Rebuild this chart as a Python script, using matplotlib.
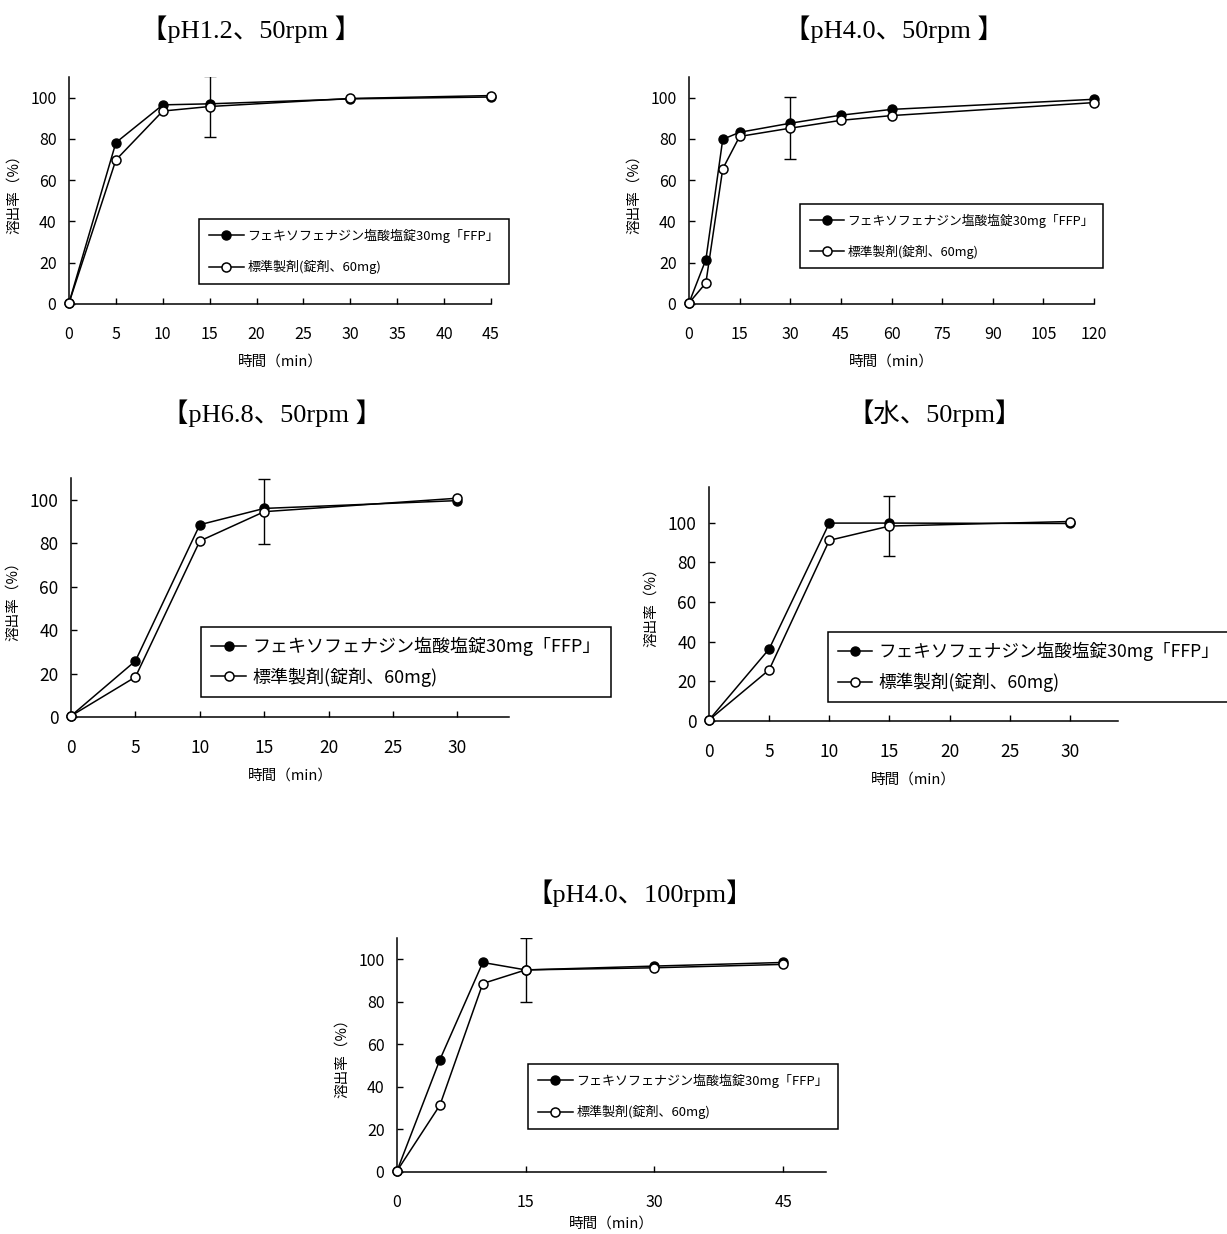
import matplotlib
matplotlib.use('Agg')
import matplotlib.pyplot as plt

plt.rcParams['font.family'] = ['Noto Sans CJK JP', 'DejaVu Sans']

# 凡例ラベル
label_test = 'フェキソフェナジン塩酸塩錠30mg「FFP」'
label_ref = '標準製剤(錠剤、60mg)'

# pH1.2、50rpm
t1 = [0, 5, 10, 15, 30, 45]
test1 = [0.5, 78.2, 96.5, 97.0, 99.4, 100.3]
ref1 = [0.5, 69.8, 93.5, 95.7, 99.6, 101.0]
xticks1 = [0, 5, 10, 15, 20, 25, 30, 35, 40, 45]

# pH4.0、50rpm
t2 = [0, 5, 10, 15, 30, 45, 60, 120]
test2 = [0.5, 21.5, 79.8, 83.2, 87.6, 91.5, 94.3, 99.2]
ref2 = [0.5, 10.2, 65.5, 81.2, 85.2, 89.0, 91.3, 97.6]
xticks2 = [0, 15, 30, 45, 60, 75, 90, 105, 120]

# pH6.8、50rpm
t3 = [0, 5, 10, 15, 30]
test3 = [0.5, 25.8, 88.5, 96.0, 99.6]
ref3 = [0.5, 18.4, 81.0, 94.5, 100.7]
xticks3 = [0, 5, 10, 15, 20, 25, 30]

# 水、50rpm
t4 = [0, 5, 10, 15, 30]
test4 = [0.5, 36.3, 99.8, 99.8, 99.6]
ref4 = [0.5, 25.8, 91.1, 98.3, 100.6]
xticks4 = [0, 5, 10, 15, 20, 25, 30]

# pH4.0、100rpm
t5 = [0, 5, 10, 15, 30, 45]
test5 = [0.5, 52.8, 98.5, 95.0, 96.8, 98.5]
ref5 = [0.5, 31.4, 88.6, 95.0, 96.0, 97.6]
xticks5 = [0, 15, 30, 45]

yticks = [0, 20, 40, 60, 80, 100]
err_range = 15  # ±15%

W, H = 1227, 1234
fig = plt.figure(figsize=(W / 100, H / 100), dpi=100)


def rect(l, r, t, b):
    return [l / W, 1 - b / H, (r - l) / W, (b - t) / H]


def panel(pos, t, test, ref, xticks, xmax, ymax, err_t, leg_xy, fs, lfs,
          lsp, bpad, hlen, htpad, xlpad=8):
    ax = fig.add_axes(rect(*pos))
    ax.plot(t, test, '-o', color='black', lw=1.1, ms=6.5, mfc='black',
            mec='black', clip_on=False, zorder=3, label=label_test)
    ax.plot(t, ref, '-o', color='black', lw=1.1, ms=6.5, mfc='white',
            mec='black', mew=1.1, clip_on=False, zorder=4, label=label_ref)
    i = t.index(err_t)
    ax.errorbar([t[i]], [ref[i]], yerr=err_range, fmt='none', ecolor='black',
                elinewidth=1.0, capsize=4.0, capthick=1.0, zorder=2)
    ax.set_xlim(0, xmax)
    ax.set_ylim(0, ymax)
    ax.set_xticks(xticks)
    ax.set_yticks(yticks)
    for s in ['top', 'right']:
        ax.spines[s].set_visible(False)
    for s in ['left', 'bottom']:
        ax.spines[s].set_linewidth(1.1)
    ax.tick_params(axis='x', direction='in', length=4, width=1, pad=16, labelsize=fs)
    ax.tick_params(axis='y', direction='in', length=4, width=1, pad=9, labelsize=fs)
    ax.set_xlabel('時間（min）', fontsize=10.5, labelpad=xlpad)
    ax.set_ylabel('溶出率（%）', fontsize=10.5, labelpad=7)
    leg = ax.legend(loc='upper left', bbox_to_anchor=leg_xy, borderaxespad=0,
                    fontsize=lfs, frameon=True, fancybox=False, framealpha=1,
                    edgecolor='black', handlelength=hlen, handletextpad=htpad,
                    labelspacing=lsp, borderpad=bpad)
    leg.get_frame().set_linewidth(1.1)
    return ax


def title(x, y, s):
    fig.text(x / W, 1 - y / H, s, ha='center', va='center', fontsize=19,
             family=['Liberation Serif', 'Noto Sans CJK JP'])


panel((69, 491, 77, 304), t1, test1, ref1, xticks1, 45, 110, 15,
      ((199 - 69) / 422, (304 - 219) / 227), 11.5, 9.4, 1.3, 0.75, 2.7, 0.25)
panel((689, 1094, 77, 304), t2, test2, ref2, xticks2, 120, 110, 30,
      ((800 - 689) / 405, (304 - 204) / 227), 11.5, 9.2, 1.3, 0.75, 2.7, 0.25)
panel((71, 509, 478, 717), t3, test3, ref3, xticks3, 34, 110, 15,
      ((201 - 71) / 438, (717 - 627) / 239), 12.5, 13, 0.62, 0.55, 1.95, 0.35)
panel((709, 1118, 487, 721), t4, test4, ref4, xticks4, 34, 118, 15,
      ((828 - 709) / 409, (721 - 632) / 234), 12.5, 12.7, 0.65, 0.55, 1.95, 0.35)
panel((397, 826, 938, 1172), t5, test5, ref5, xticks5, 50, 110, 15,
      ((528 - 397) / 429, (1172 - 1064) / 234), 11.5, 9.4, 1.3, 0.75, 2.7, 0.25,
      xlpad=4)

title(251, 29, '【pH1.2、50rpm 】')
title(894, 29, '【pH4.0、50rpm 】')
title(272, 413, '【pH6.8、50rpm 】')
title(935, 413, '【水、50rpm】')
title(640, 893, '【pH4.0、100rpm】')

fig.savefig('out.png', dpi=100)
